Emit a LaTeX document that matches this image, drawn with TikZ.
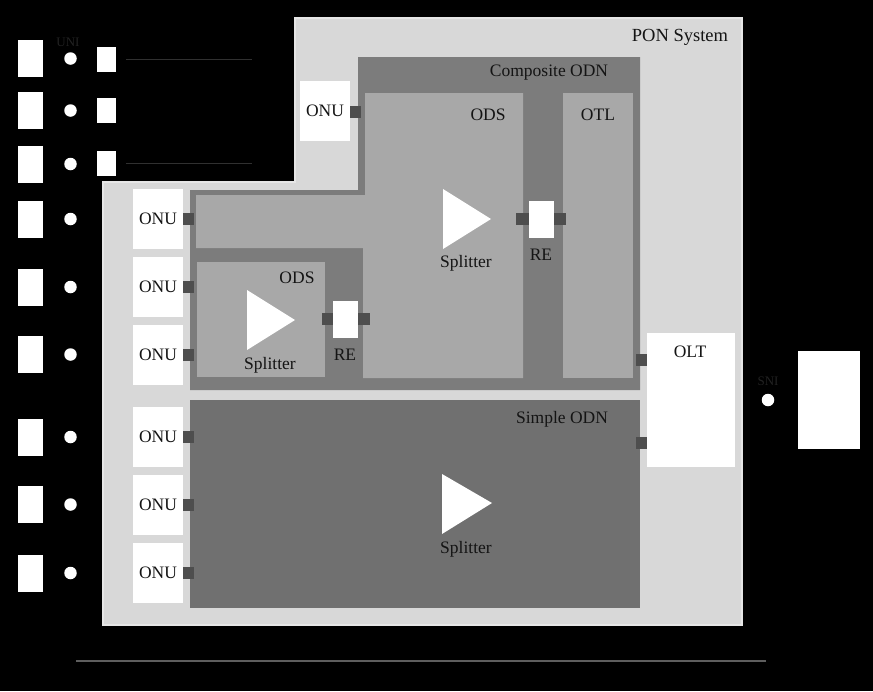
\documentclass[tikz,border=0pt]{standalone}
\usepackage{fontspec}
\setmainfont{Liberation Serif}
\definecolor{pon}{HTML}{D8D8D8}
\definecolor{ponedge}{HTML}{E6E6E6}
\definecolor{comp}{HTML}{7C7C7C}
\definecolor{ods}{HTML}{A8A8A8}
\definecolor{simple}{HTML}{707070}
\definecolor{portc}{HTML}{4E4E4E}
\definecolor{txt}{HTML}{141414}
\definecolor{faint}{HTML}{222222}
\definecolor{faintline}{HTML}{303030}
\definecolor{basegray}{HTML}{5E5E5E}
\begin{document}
\begin{tikzpicture}[x=1pt,y=-1pt,
  lbl/.style={font=\fontsize{17.5}{20}\selectfont, text=txt, inner sep=0pt},
  whitebox/.style={fill=white, inner sep=0pt, outer sep=0pt, font=\fontsize{17.5}{20}\selectfont, text=txt},
  onubox/.style={whitebox, minimum width=50pt, minimum height=60pt},
  port/.style={fill=portc, inner sep=0pt, outer sep=0pt, minimum width=11pt, minimum height=12pt},
  refbox/.style={fill=white, inner sep=0pt, outer sep=0pt, minimum width=25pt, minimum height=37pt},
  smallsq/.style={fill=white, inner sep=0pt, outer sep=0pt, minimum width=19pt, minimum height=25pt},
  dot/.style={circle, fill=white, inner sep=0pt, outer sep=0pt, minimum size=12.5pt},
  splitterTri/.style={fill=white},
  fainttext/.style={font=\fontsize{13}{15}\selectfont, text=faint, inner sep=0pt}
]
\fill[black] (0,0) rectangle (873,691);
\useasboundingbox (0,0) rectangle (873,691);

% PON system (L shape)
\fill[pon, draw=ponedge, line width=1.5pt] (295,18) -- (742,18) -- (742,625) -- (103,625) -- (103,182) -- (295,182) -- cycle;
\node[lbl, font=\fontsize{18.5}{20}\selectfont] (ponlbl) at (680,37) {PON System};

% Composite ODN
\fill[comp] (358,57) -- (640,57) -- (640,390) -- (190,390) -- (190,190) -- (358,190) -- cycle;
\node[lbl] (complbl) at (549,73) {Composite ODN};

% Big ODS
\fill[ods] (365,93) -- (523,93) -- (523,378) -- (363,378) -- (363,248) -- (196,248) -- (196,195) -- (365,195) -- cycle;
\node[lbl] (odslbl) at (488,115) {ODS};

% OTL
\fill[ods] (563,93) rectangle (633,378);
\node[lbl] (otllbl) at (598,115) {OTL};

% Small ODS interior
\fill[ods] (197,262) rectangle (325,377);
\node[lbl] (ods2lbl) at (297,278) {ODS};

% Simple ODN
\fill[simple] (190,400) rectangle (640,608);
\node[lbl] (simplelbl) at (562,419) {Simple ODN};

% Splitters
\fill[splitterTri] (443,189) -- (491,219) -- (443,249) -- cycle;
\node[lbl] (split1) at (466,263) {Splitter};
\fill[splitterTri] (247,290) -- (295,320) -- (247,350) -- cycle;
\node[lbl] (split2) at (270,365) {Splitter};
\fill[splitterTri] (442,474) -- (492,503) -- (442,534) -- cycle;
\node[lbl] (split3) at (466,549) {Splitter};

% REs
\node[port, minimum width=13pt] (re1l) at (522,219) {};
\node[port, minimum width=12pt] (re1r) at (560,219) {};
\node[refbox, minimum width=25pt, minimum height=37pt] (re1) at (541.5,219.5) {};
\node[lbl] (re1lbl) at (541,255) {RE};
\node[port, minimum width=12pt] (re2l) at (328,319) {};
\node[port, minimum width=12pt] (re2r) at (364,319) {};
\node[refbox, minimum width=25pt, minimum height=37pt] (re2) at (345.5,319.5) {};
\node[lbl] (re2lbl) at (345,355) {RE};

% ONUs
\node[onubox] (onu0) at (325,111) {ONU};
\node[port] (p0) at (355,112) {};
\foreach \y [count=\i] in {219,286.5,354.5,437,504.5,573} {
  \node[onubox] (onu\i) at (158,\y) {ONU};
  \node[port] (p\i) at (188.5,\y) {};
}

% OLT
\node[port] (olt1) at (641,360) {};
\node[port] (olt2) at (641,443) {};
\node[whitebox, minimum width=88pt, minimum height=134pt] (olt) at (691,400) {};
\node[lbl] (oltlbl) at (690,352) {OLT};

% Left column (UNI side)
\node[fainttext] (uni) at (68,42) {UNI};
\foreach \y [count=\i] in {58.5,110.5,164,219,287,354.5,437,504.5,573} {
  \node[refbox] (ue\i) at (30.5,\y) {};
  \node[dot] (d\i) at (70.5,\y) {};
}
\node[smallsq] (sq1) at (106.5,59.5) {};
\node[smallsq] (sq2) at (106.5,110.5) {};
\node[smallsq] (sq3) at (106.5,163.5) {};
\coordinate (fl1) at (252,59);
\coordinate (fl3) at (252,163);
\draw[faintline, line width=1pt, shorten <=10pt] (sq1.east |- fl1) -- (fl1);
\draw[faintline, line width=1pt, shorten <=10pt] (sq3.east |- fl3) -- (fl3);

% SNI side
\node[fainttext] (sni) at (768,381) {SNI};
\node[dot] (dsni) at (768,400) {};
\node[refbox, minimum width=62pt, minimum height=98pt] (srv) at (828.5,400) {};

% Bottom baseline
\coordinate (bl) at (76,661);
\coordinate (br) at (766,661);
\draw[basegray, line width=2pt] (bl) -- (br);
\end{tikzpicture}
\end{document}
